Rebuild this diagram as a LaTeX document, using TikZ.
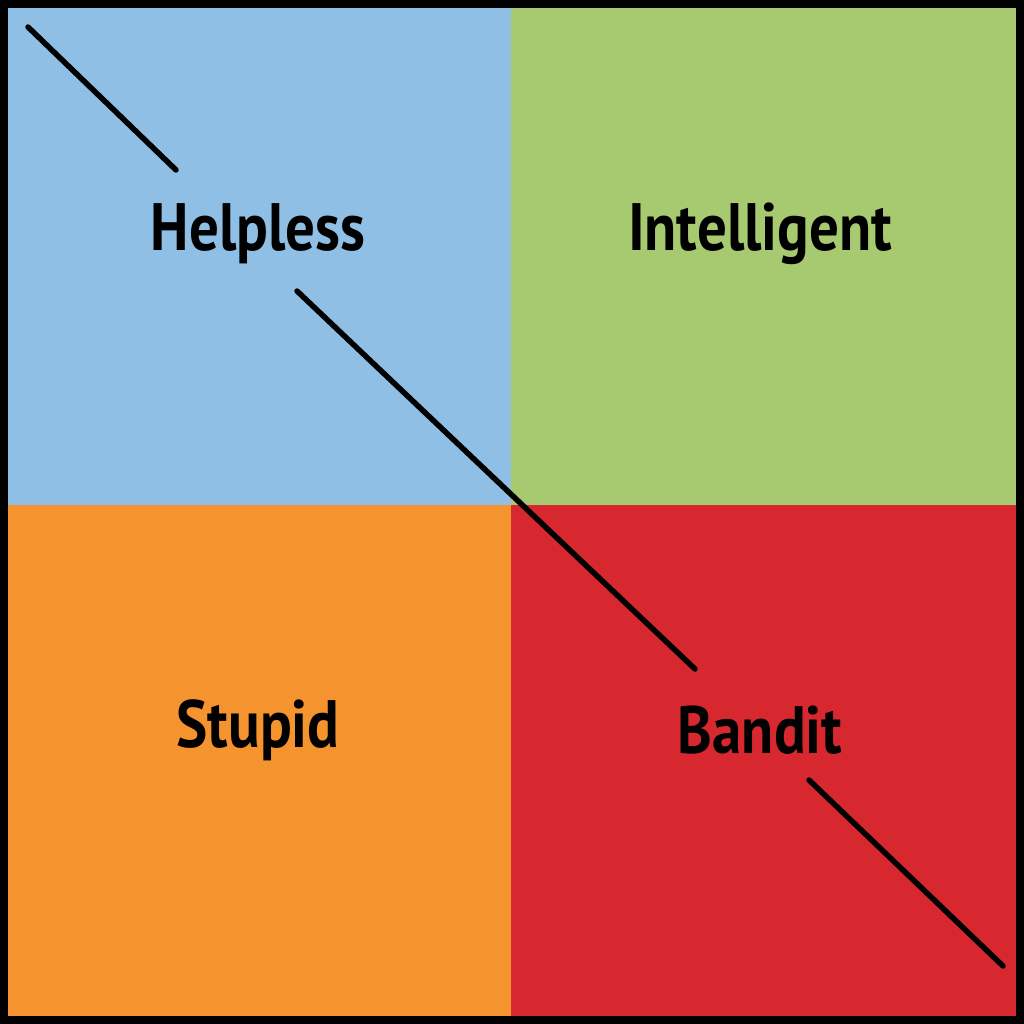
\documentclass[tikz,border=0pt]{standalone}
\usepackage{fontspec}
\setmainfont{PT Sans}
\definecolor{qblue}{HTML}{8FBFE4}
\definecolor{qgreen}{HTML}{A7C970}
\definecolor{qorange}{HTML}{F5932F}
\definecolor{qred}{HTML}{D72830}
\begin{document}
\begin{tikzpicture}[x=1pt,y=-1pt,
  lbl/.style={font=\fontsize{67}{75}\selectfont\bfseries,xscale=0.88,inner sep=0},
  diag/.style={line width=5.5pt,line cap=round}]
\useasboundingbox (0,0) rectangle (1024,1024);
\fill[black] (0,0) rectangle (1024,1024);
\fill[qblue] (8,8) rectangle (511,505);
\fill[qgreen] (511,8) rectangle (1016,505);
\fill[qorange] (8,505) rectangle (511,1016);
\fill[qred] (511,505) rectangle (1016,1016);
\node[lbl] (h) at (258,234) {Helpless};
\node[lbl] (i) at (760,234) {Intelligent};
\node[lbl] (s) at (258,730) {Stupid};
\node[lbl] (b) at (760,730) {Bandit};
\draw[diag] (28,27) -- (176,170);
\draw[diag] (297,291) -- (695,669);
\draw[diag] (809,780) -- (1003,966);
\end{tikzpicture}
\end{document}
